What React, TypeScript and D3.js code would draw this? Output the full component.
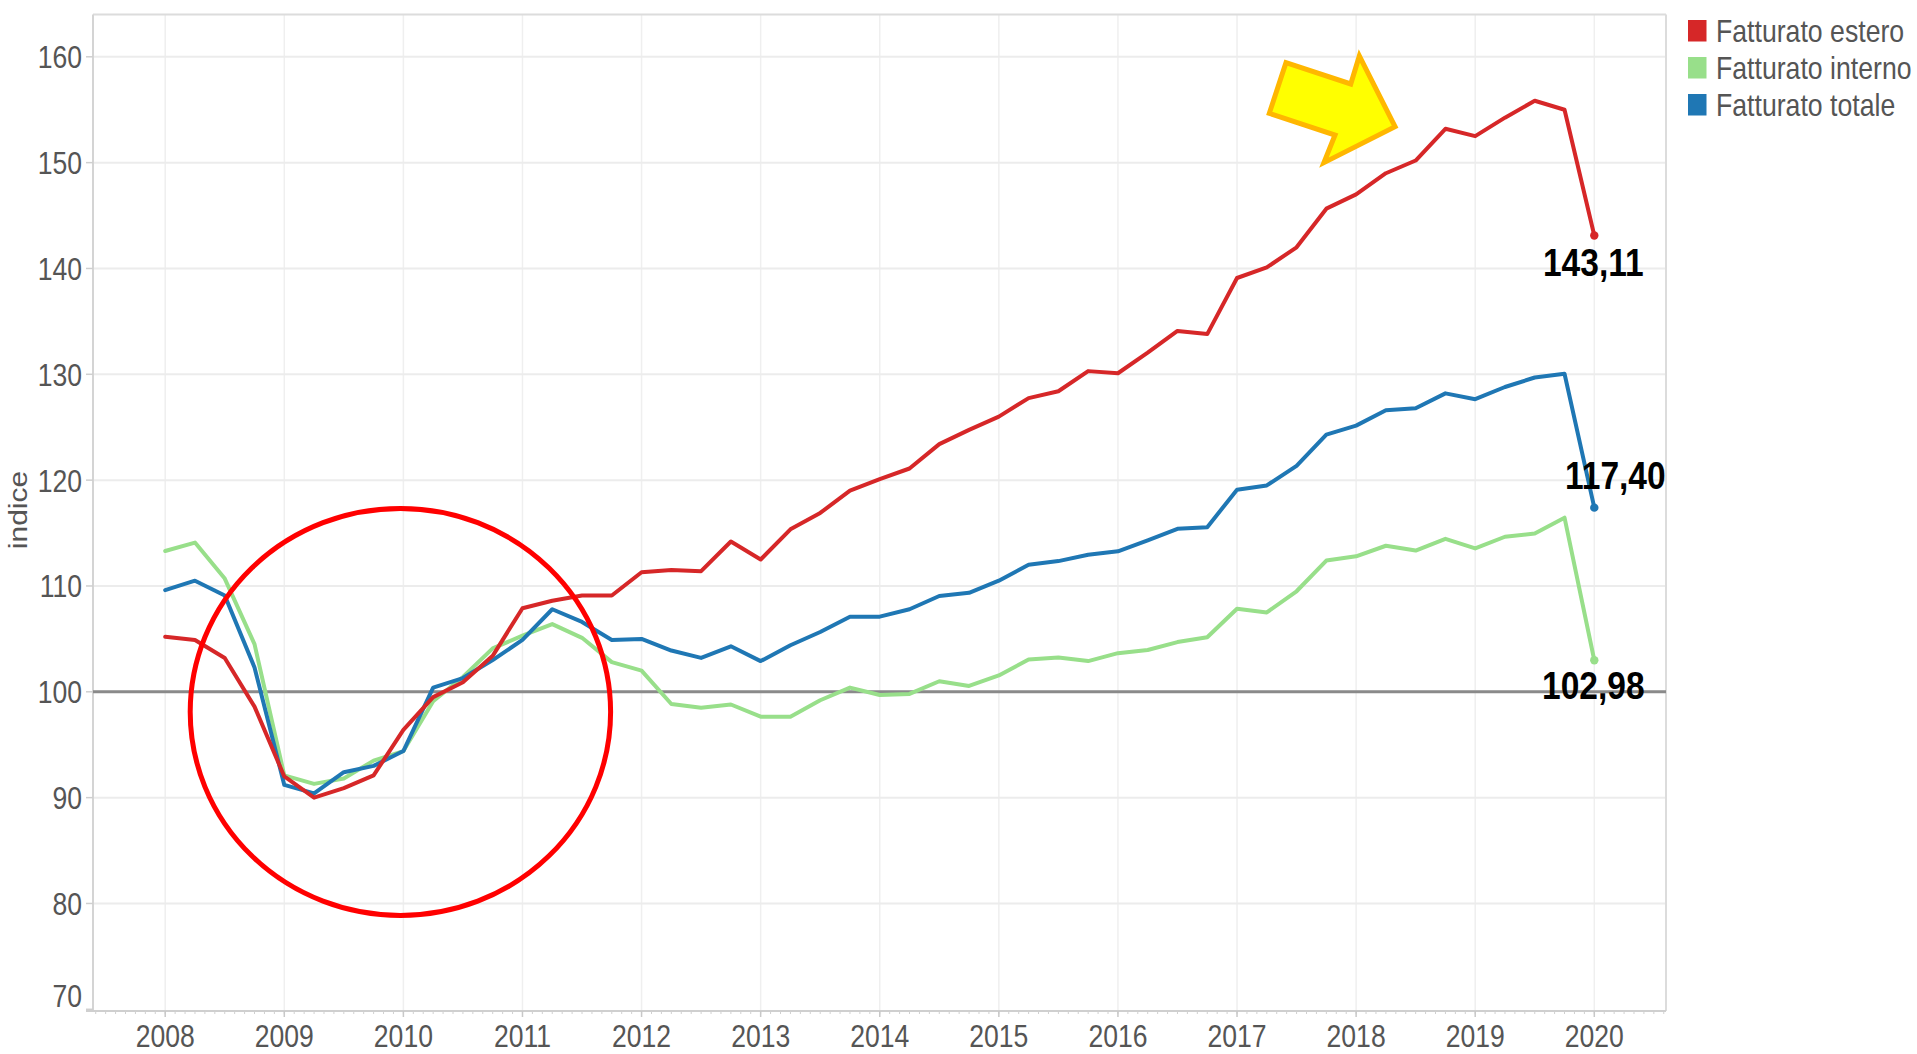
import React from "react";
import * as d3 from "d3";

const periods = [
  2008, 2008.25, 2008.5, 2008.75,
  2009, 2009.25, 2009.5, 2009.75,
  2010, 2010.25, 2010.5, 2010.75,
  2011, 2011.25, 2011.5, 2011.75,
  2012, 2012.25, 2012.5, 2012.75,
  2013, 2013.25, 2013.5, 2013.75,
  2014, 2014.25, 2014.5, 2014.75,
  2015, 2015.25, 2015.5, 2015.75,
  2016, 2016.25, 2016.5, 2016.75,
  2017, 2017.25, 2017.5, 2017.75,
  2018, 2018.25, 2018.5, 2018.75,
  2019, 2019.25, 2019.5, 2019.75,
  2020,
];

const estero = [
  105.2, 104.9, 103.2, 98.6,
  92.0, 90.0, 90.9, 92.1,
  96.4, 99.5, 100.9, 103.4,
  107.9, 108.6, 109.1, 109.1,
  111.3, 111.5, 111.4, 114.2,
  112.5, 115.35, 116.9, 119.0,
  120.1, 121.1, 123.4, 124.75,
  126.0, 127.75, 128.4, 130.3,
  130.1, 132.05, 134.1, 133.8,
  139.1, 140.1, 142.0, 145.65,
  147.0, 149.0, 150.2, 153.2,
  152.5, 154.25, 155.85, 155.0,
  143.11,
];

const interno = [
  113.3, 114.1, 110.7, 104.5,
  92.1, 91.3, 91.8, 93.5,
  94.4, 99.1, 101.4, 104.1,
  105.3, 106.4, 105.1, 102.8,
  102.0, 98.85, 98.5, 98.8,
  97.65, 97.65, 99.2, 100.4,
  99.7, 99.8, 101.0, 100.55,
  101.55, 103.05, 103.25, 102.9,
  103.65, 103.95, 104.7, 105.15,
  107.85, 107.5, 109.5, 112.4,
  112.8, 113.8, 113.35, 114.45,
  113.55, 114.65, 114.95, 116.45,
  102.98,
];

const totale = [
  109.6, 110.5, 109.1, 102.3,
  91.2, 90.4, 92.4, 93.0,
  94.4, 100.4, 101.3, 103.0,
  104.9, 107.8, 106.6, 104.9,
  105.0, 103.9, 103.2, 104.3,
  102.9, 104.4, 105.65, 107.1,
  107.1, 107.8, 109.05, 109.35,
  110.5, 112.0, 112.35, 112.95,
  113.27, 114.3, 115.4, 115.55,
  119.1, 119.5, 121.35, 124.3,
  125.15, 126.6, 126.8, 128.2,
  127.65, 128.8, 129.7, 130.05,
  117.4,
];

const seriesNames = ["Fatturato estero", "Fatturato interno", "Fatturato totale"];
const seriesColors = ["#d62728", "#98df8a", "#1f77b4"];
const endLabels = ["143,11", "102,98", "117,40"];

const yTicks = [70, 80, 90, 100, 110, 120, 130, 140, 150, 160];
const xTicks = [2008, 2009, 2010, 2011, 2012, 2013, 2014, 2015, 2016, 2017, 2018, 2019, 2020];

// annotations in data units
const circleCenter = [2009.975, 98.1];
const circleRadii = [1.765, 19.23];
const arrowPts = [
  [2017.411, 159.44],
  [2017.955, 157.43],
  [2018.027, 160.08],
  [2018.327, 153.4],
  [2017.73, 150.0],
  [2017.823, 152.61],
  [2017.271, 154.66],
];

const W = 1917;
const H = 1054;
const L = 93;
const R = 1666;
const T = 14.5;
const B = 1011;

const FONT = "'Liberation Sans', Arial, sans-serif";

function NText(props: {
  x: number;
  y: number;
  anchor?: string;
  size: number;
  fill: string;
  bold?: boolean;
  sq?: number;
  children: React.ReactNode;
}) {
  const sq = props.sq ?? 0.83;
  return (
    <text
      transform={`translate(${props.x},${props.y}) scale(${sq},1)`}
      textAnchor={(props.anchor || "start") as any}
      fontFamily={FONT}
      fontSize={props.size}
      fontWeight={props.bold ? "bold" : "normal"}
      fill={props.fill}
    >
      {props.children}
    </text>
  );
}

export default function App() {
  const x = d3.scaleLinear().domain([2008, 2020]).range([165.2, 1594.3]);
  const y = d3.scaleLinear().domain([70, 160]).range([1009.3, 56.8]);

  const line = d3
    .line<[number, number]>()
    .x((d) => x(d[0]))
    .y((d) => y(d[1]));

  const data = [estero, interno, totale];
  const drawOrder = [1, 2, 0];

  const months: number[] = [];
  for (let m = 2007 * 12 + 5; m <= 2020 * 12 + 7; m++) months.push(m / 12);

  const arrowPath = "M" + arrowPts.map((p) => `${x(p[0])},${y(p[1])}`).join("L") + "Z";

  const labelPos = [
    { dx: -1, dy: 40, anchor: "middle" },
    { dx: -1, dy: 39, anchor: "middle" },
    { dx: 21, dy: -19, anchor: "middle" },
  ];

  return (
    <svg
      width={W}
      height={H}
      style={{ position: "absolute", left: 0, top: 0, background: "#fff" }}
    >
      <rect x={0} y={0} width={W} height={H} fill="#fff" />
      {xTicks.map((t) => (
        <line key={"vg" + t} x1={x(t)} x2={x(t)} y1={T} y2={B} stroke="#efefef" strokeWidth={1.5} />
      ))}
      {yTicks
        .filter((t) => t > 70)
        .map((t) => (
          <line key={"hg" + t} x1={L} x2={R} y1={y(t)} y2={y(t)} stroke="#ececec" strokeWidth={2} />
        ))}
      <line x1={L} x2={R} y1={T} y2={T} stroke="#dcdcdc" strokeWidth={2} />
      <line x1={R} x2={R} y1={T} y2={B} stroke="#dcdcdc" strokeWidth={2} />
      <line x1={L} x2={L} y1={T} y2={B} stroke="#d4d4d4" strokeWidth={2} />
      <line x1={L - 7} x2={R} y1={B} y2={B} stroke="#cfcfcf" strokeWidth={2} />
      {yTicks.map((t) => (
        <line key={"yt" + t} x1={L - 7} x2={L} y1={y(t)} y2={y(t)} stroke="#cfcfcf" strokeWidth={1.5} />
      ))}
      {yTicks.map((t) => {
        const cy = Math.min(y(t), B - 16);
        return (
          <NText key={"yl" + t} x={82} y={cy + 11.5} anchor="end" size={32} fill="#555">
            {t}
          </NText>
        );
      })}
      {months.map((m, i) => (
        <line key={"mt" + i} x1={x(m)} x2={x(m)} y1={B} y2={B + 3} stroke="#d0d0d0" strokeWidth={1} />
      ))}
      {xTicks.map((t) => (
        <line key={"xt" + t} x1={x(t)} x2={x(t)} y1={B} y2={B + 6} stroke="#c8c8c8" strokeWidth={1.5} />
      ))}
      {xTicks.map((t) => (
        <NText key={"xl" + t} x={x(t)} y={B + 35.5} anchor="middle" size={32} fill="#555">
          {t}
        </NText>
      ))}
      <text
        transform={`translate(26.5,510) scale(0.87,1) rotate(-90)`}
        textAnchor="middle"
        fontFamily={FONT}
        fontSize={30}
        fill="#555"
      >
        indice
      </text>
      <line x1={L} x2={R} y1={y(100)} y2={y(100)} stroke="#8a8a8a" strokeWidth={3} />
      {drawOrder.map((si) => (
        <path
          key={"s" + si}
          d={line(periods.map((p, i) => [p, data[si][i]] as [number, number])) || ""}
          fill="none"
          stroke={seriesColors[si]}
          strokeWidth={4}
          strokeLinejoin="round"
          strokeLinecap="round"
        />
      ))}
      {drawOrder.map((si) => {
        const last = periods.length - 1;
        return (
          <circle
            key={"d" + si}
            cx={x(periods[last])}
            cy={y(data[si][last])}
            r={4.2}
            fill={seriesColors[si]}
          />
        );
      })}
      {[0, 1, 2].map((si) => {
        const last = periods.length - 1;
        const lp = labelPos[si];
        return (
          <NText
            key={"el" + si}
            x={x(periods[last]) + lp.dx}
            y={y(data[si][last]) + lp.dy}
            anchor={lp.anchor}
            size={39}
            sq={0.86}
            bold
            fill="#000"
          >
            {endLabels[si]}
          </NText>
        );
      })}
      <ellipse
        cx={x(circleCenter[0])}
        cy={y(circleCenter[1])}
        rx={x(circleCenter[0] + circleRadii[0]) - x(circleCenter[0])}
        ry={y(circleCenter[1] - circleRadii[1]) - y(circleCenter[1])}
        fill="none"
        stroke="#ff0000"
        strokeWidth={5}
      />
      <path d={arrowPath} fill="#ffff00" stroke="#ffb700" strokeWidth={5} strokeLinejoin="miter" />
      {seriesNames.map((n, i) => (
        <g key={"lg" + i}>
          <rect x={1688} y={20 + i * 37} width={18.5} height={21.5} fill={seriesColors[i]} />
          <NText x={1716} y={41.5 + i * 37} size={31} sq={0.86} fill="#555">
            {n}
          </NText>
        </g>
      ))}
    </svg>
  );
}
